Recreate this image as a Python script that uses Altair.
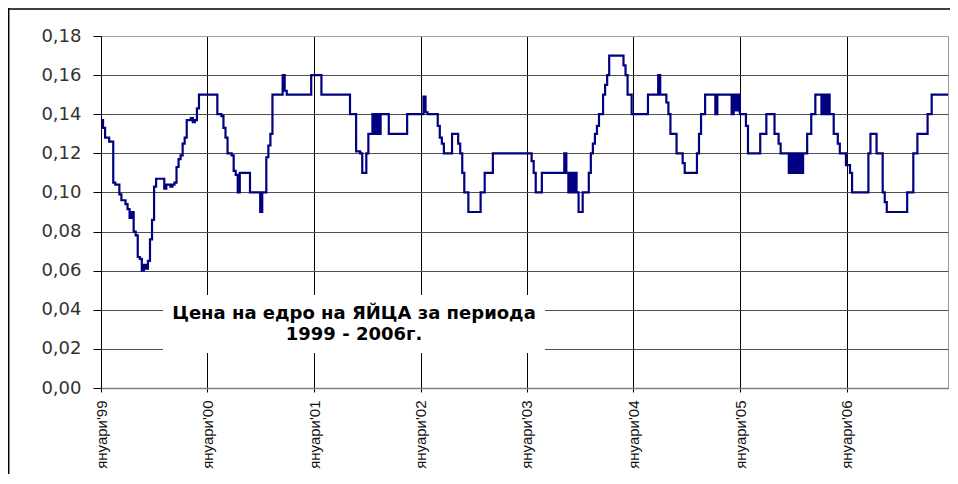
import altair as alt
import pandas as pd

# Weekly wholesale egg price (BGN/piece), change points
WEEKS = [0, 1, 2, 4, 6, 7, 9, 10, 12, 13, 14, 15, 16, 17, 18, 19, 20, 21, 22, 23,
         24, 25, 26, 27, 31, 32, 34, 35, 36, 37, 38, 39, 40, 41, 42, 44, 45, 46, 47, 48,
         57, 59, 60, 61, 62, 64, 65, 66, 67, 68, 73, 78, 79, 81, 82, 83, 84, 89, 90, 91,
         103, 108, 122, 125, 127, 128, 130, 131, 133, 134, 135, 136, 137, 141, 150, 158, 159, 160,
         165, 166, 167, 168, 172, 175, 176, 177, 178, 180, 186, 188, 192, 211, 212, 213, 216,
         227, 228, 229, 230, 231, 232, 233, 234, 236, 239, 240, 241, 242, 243, 244, 246, 247,
         248, 249, 256, 257, 258, 260, 268, 273, 274, 277, 278, 279, 282, 285, 286, 292, 293,
         294, 296, 301, 302, 309, 310, 311, 312, 313, 316, 317, 323, 326, 330, 332, 333, 337,
         338, 339, 340, 341, 342, 343, 344, 346, 348, 350, 353, 354, 355, 356, 357, 359, 361,
         362, 365, 367, 368, 376, 377, 380, 383, 384, 385, 395, 398, 400, 405, 407, 415]
PRICES = [0.137, 0.133, 0.128, 0.126, 0.105, 0.104, 0.099, 0.096, 0.094, 0.0915, 0.087, 0.090,
          0.080, 0.078, 0.067, 0.066, 0.060, 0.063, 0.061, 0.065,
          0.076, 0.086, 0.103, 0.107, 0.102, 0.104, 0.103, 0.104, 0.105, 0.113, 0.117, 0.119,
          0.125, 0.128, 0.137, 0.138, 0.136, 0.137, 0.143, 0.150,
          0.140, 0.139, 0.133, 0.128, 0.120, 0.119, 0.111, 0.109, 0.100, 0.110, 0.100, 0.090,
          0.100, 0.118, 0.124, 0.130, 0.150, 0.160, 0.152, 0.150,
          0.160, 0.150, 0.140, 0.121, 0.120, 0.110, 0.120, 0.130, 0.140, 0.130, 0.140, 0.130,
          0.140, 0.130, 0.140, 0.149, 0.141, 0.140,
          0.134, 0.128, 0.125, 0.120, 0.130, 0.125, 0.120, 0.110, 0.100, 0.090, 0.100, 0.110,
          0.120, 0.116, 0.110, 0.100, 0.110,
          0.120, 0.110, 0.100, 0.110, 0.100, 0.110, 0.100, 0.090, 0.100, 0.110, 0.120, 0.125,
          0.130, 0.134, 0.140, 0.150, 0.155,
          0.160, 0.170, 0.165, 0.160, 0.150, 0.140, 0.150, 0.160, 0.150, 0.146, 0.140, 0.130,
          0.120, 0.115, 0.110, 0.120, 0.130,
          0.140, 0.150, 0.140, 0.150, 0.140, 0.150, 0.142, 0.150, 0.140, 0.134, 0.120, 0.130,
          0.140, 0.130, 0.125, 0.120, 0.110,
          0.120, 0.110, 0.120, 0.110, 0.120, 0.110, 0.120, 0.130, 0.140, 0.150, 0.140, 0.150,
          0.140, 0.150, 0.140, 0.130, 0.125,
          0.120, 0.114, 0.110, 0.100, 0.120, 0.130, 0.120, 0.100, 0.095, 0.090, 0.100, 0.120,
          0.130, 0.140, 0.150, 0.150]

YEARS = [1999, 2000, 2001, 2002, 2003, 2004, 2005, 2006]
Y_TICKS = [0.0, 0.02, 0.04, 0.06, 0.08, 0.10, 0.12, 0.14, 0.16, 0.18]
TITLE_LINES = ["Цена на едро на ЯЙЦА за периода", "1999 - 2006г."]

start = pd.Timestamp("1999-01-01")
df = pd.DataFrame({
    "date": [(start + pd.Timedelta(days=7 * w)).strftime("%Y-%m-%d") for w in WEEKS],
    "price": PRICES,
})

one = pd.DataFrame({"k": [0]})

x_enc = alt.X(
    "date:T",
    scale=alt.Scale(type="utc",
                    domain=[alt.DateTime(year=1999, month=1, date=1, utc=True),
                            alt.DateTime(year=2006, month=12, date=15, utc=True)]),
    axis=alt.Axis(
        title=None,
        values=[alt.DateTime(year=y, month=1, date=1, utc=True) for y in YEARS],
        labelExpr='"януари\'" + utcFormat(datum.value, "%y")',
        labelAngle=270,
        labelFont="Liberation Sans",
        labelFontSize=15,
        labelColor="#111111",
        labelPadding=8,
        tickSize=4,
        tickColor="#000000",
        domainColor="#808080",
        domainWidth=1.5,
        grid=True,
        gridColor="#000000",
        gridWidth=1,
        gridOpacity=1,
    ),
)

y_enc = alt.Y(
    "price:Q",
    scale=alt.Scale(domain=[0, 0.18], nice=False, zero=True),
    axis=alt.Axis(
        title=None,
        values=Y_TICKS,
        labelExpr="replace(format(datum.value, '.2f'), '.', ',')",
        labelFont="DejaVu Sans",
        labelFontSize=18,
        labelColor="#333333",
        labelPadding=12,
        tickSize=8,
        tickColor="#000000",
        domainColor="#000000",
        domainWidth=1,
        grid=True,
        gridColor={"condition": {"test": "datum.value > 0.17", "value": "#a0a0a0"},
                   "value": "#505050"},
        gridWidth=1,
        gridOpacity=1,
    ),
)

line = alt.Chart(df).mark_line(
    color="#000080", strokeWidth=2.2, interpolate="step-after"
).encode(x=x_enc, y=y_enc)

box = alt.Chart(one).mark_rect(color="white").encode(
    x=alt.value(62), x2=alt.value(444), y=alt.value(259), y2=alt.value(317)
)

title = alt.Chart(one).mark_text(
    font="DejaVu Sans", fontSize=18, fontWeight="bold", color="#000000",
    align="center", baseline="middle", lineHeight=21
).encode(x=alt.value(253), y=alt.value(278), text=alt.value(TITLE_LINES))

frame_top = alt.Chart(one).mark_rule(color="#000000", strokeWidth=1.5).encode(
    x=alt.value(-93), x2=alt.value(860), y=alt.value(-27)
)
frame_left = alt.Chart(one).mark_rule(color="#000000", strokeWidth=1.5).encode(
    x=alt.value(-92.3), y=alt.value(-28), y2=alt.value(440)
)

chart = alt.layer(line, box, title, frame_top, frame_left).properties(
    width=847,
    height=352,
    autosize=alt.AutoSizeParams(type="none"),
    padding={"left": 93, "top": 28, "right": 2, "bottom": 86},
    background="white",
).configure_view(stroke="#999999", strokeWidth=1)

chart.save("out.html", embed_options={"renderer": "svg", "actions": False})
